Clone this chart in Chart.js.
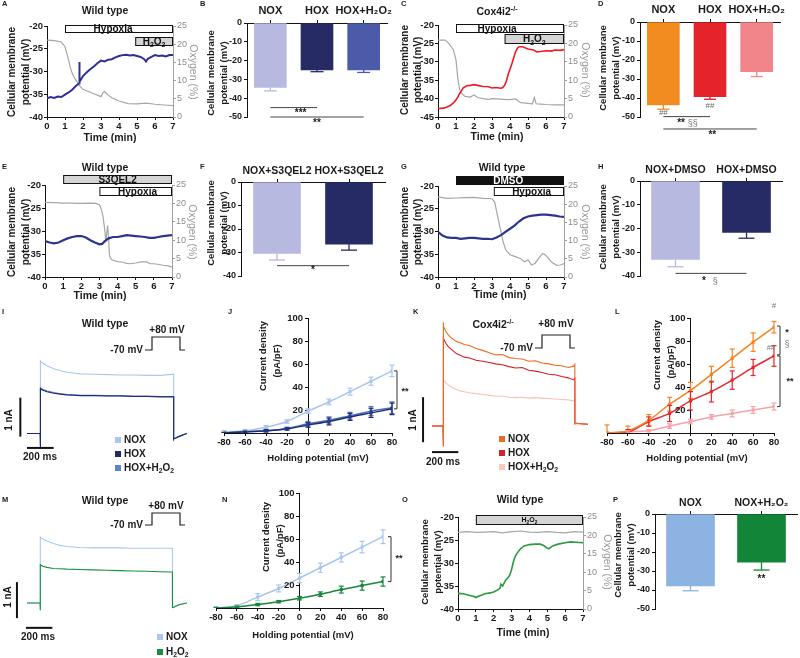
<!DOCTYPE html>
<html>
<head>
<meta charset="utf-8">
<script src="https://cdn.jsdelivr.net/npm/chart.js@4.4.1/dist/chart.umd.min.js"></script>
<style>
html, body { margin: 0; padding: 0; background: #fff; }
#fig { position: relative; width: 800px; height: 658px; overflow: hidden; background: #fff; }
#fig canvas { position: absolute; left: 0; top: 0; }
</style>
</head>
<body>
<div id="fig"></div>
<script>
// ---------- data ----------
// A: wild type, membrane potential (mV) and oxygen (%) vs time (min)
const aVmTime = [0,0.2,0.4,0.6,0.8,1.0,1.2,1.4,1.6,1.79,1.8,1.81,2.0,2.2,2.4,2.6,2.8,3.0,3.2,3.4,3.6,3.8,4.0,4.2,4.4,4.6,4.8,5.0,5.2,5.4,5.5,5.6,5.8,6.0,6.2,6.4,6.6,6.8,7.0];
const aVm = [-35.9,-35.6,-35.8,-35.5,-35.6,-35.1,-34.6,-34.0,-33.2,-32.6,-27.9,-32.3,-31.0,-30.2,-29.5,-28.9,-28.2,-27.6,-27.8,-27.4,-27.3,-26.9,-26.6,-26.4,-26.3,-26.5,-26.4,-26.6,-26.8,-27.3,-27.8,-27.2,-26.8,-26.4,-26.6,-26.5,-26.7,-26.4,-26.4];
const aO2Time = [0,0.4,0.8,1.0,1.1,1.2,1.3,1.4,1.5,1.6,1.8,2.0,2.3,2.6,3.0,3.1,3.2,3.4,3.6,4.0,4.5,5.0,5.5,6.0,6.5,7.0];
const aO2 = [21.1,21.0,20.6,19.3,17.5,15.6,13.5,12.0,11.0,10.2,8.6,7.6,7.0,6.4,5.6,6.6,7.0,6.0,5.3,4.4,3.7,3.6,3.8,3.5,3.3,3.1];

// C: Cox4i2-/-
const cVmTime = [0,0.3,0.5,0.7,0.9,1.0,1.1,1.2,1.3,1.4,1.5,1.6,1.8,2.0,2.2,2.5,2.8,3.0,3.2,3.5,3.6,3.7,3.8,3.9,4.0,4.1,4.2,4.3,4.4,4.5,4.7,5.0,5.3,5.5,5.7,6.0,6.3,6.5,6.8,7.0];
const cVm = [-42.7,-42.6,-42.3,-41.8,-41.0,-40.3,-39.6,-38.6,-37.9,-37.1,-36.8,-36.5,-36.4,-36.2,-36.4,-36.7,-36.8,-37.1,-37.0,-37.2,-37.0,-36.4,-35.2,-33.4,-32.0,-30.6,-29.0,-27.4,-26.4,-25.9,-25.9,-26.5,-26.8,-27.3,-27.2,-27.0,-27.1,-26.8,-26.9,-26.7];
const cO2Time = [0,0.4,0.6,0.85,1.0,1.1,1.2,1.3,1.5,1.8,2.0,2.2,2.5,2.8,3.0,3.3,3.6,4.0,4.3,4.6,5.0,5.25,5.35,5.45,5.7,6.0,6.5,7.0];
const cO2 = [20.9,20.9,20.0,18.3,15.5,10.5,7.5,6.5,5.6,5.4,6.0,5.3,5.0,4.8,5.0,4.9,4.8,4.7,4.9,3.9,3.7,3.6,5.3,3.6,3.5,3.4,3.3,3.3];

// E: wild type + S3QEL2
const eVmTime = [0,0.25,0.5,0.75,1,1.25,1.5,1.75,2,2.25,2.5,2.75,3,3.15,3.3,3.5,3.75,4,4.25,4.5,4.75,5,5.25,5.5,5.75,6,6.25,6.5,6.75,7];
const eVm = [-32.2,-32.5,-32.7,-32.5,-32.0,-31.6,-31.3,-31.1,-31.1,-31.4,-32.0,-32.5,-32.9,-32.8,-32.2,-31.6,-31.3,-31.3,-31.1,-30.9,-31.0,-31.1,-31.2,-31.3,-31.5,-31.5,-31.3,-31.1,-31.0,-30.9];
const eO2Time = [0,0.5,1,1.5,2,2.5,2.8,3.0,3.1,3.2,3.3,3.35,3.45,3.5,3.55,3.6,3.7,4.0,4.3,4.5,4.7,5.0,5.3,5.6,5.8,6.0,6.3,6.5,6.8,7.0];
const eO2 = [20.3,20.2,20.1,20.1,20.0,20.1,20.0,19.6,18.5,16.4,12.5,9.5,14.0,11.0,6.0,5.2,4.6,4.2,4.0,3.7,3.6,3.8,4.1,4.1,3.6,3.6,3.4,3.2,3.0,2.7];

// G: wild type + DMSO
const gVmTime = [0,0.25,0.5,0.75,1,1.25,1.5,1.75,2,2.25,2.5,2.75,3,3.25,3.5,3.75,4,4.25,4.5,4.75,5,5.25,5.5,5.75,6,6.25,6.5,6.75,7];
const gVm = [-30.1,-30.9,-31.3,-31.4,-31.4,-31.6,-31.5,-31.4,-31.4,-31.5,-31.6,-31.6,-31.7,-31.3,-30.8,-30.1,-29.4,-28.7,-27.8,-27.1,-26.7,-26.5,-26.4,-26.3,-26.3,-26.4,-26.5,-26.7,-26.8];
const gO2Time = [0,0.5,1,1.5,2,2.5,3.0,3.15,3.3,3.45,3.6,3.75,3.9,4.0,4.3,4.6,4.8,5.0,5.2,5.4,5.6,5.8,5.9,6.1,6.3,6.6,6.8,7.0];
const gO2 = [22.0,21.6,21.7,21.8,21.9,21.6,21.5,20.6,17.0,13.5,10.0,7.6,6.6,6.1,5.6,5.0,4.2,4.7,3.3,3.8,5.2,6.4,6.3,5.4,4.1,3.2,3.3,3.7];

// O: wild type + H2O2 in normoxia
const oVmTime = [0,0.3,0.6,0.9,1.0,1.1,1.3,1.5,1.8,2.0,2.2,2.35,2.4,2.5,2.6,2.7,2.8,2.9,3.0,3.1,3.2,3.3,3.5,3.7,4.0,4.3,4.6,4.8,5.0,5.1,5.3,5.6,6.0,6.3,6.6,7.0];
const oVm = [-36.6,-36.7,-37.0,-37.3,-37.5,-37.3,-37.0,-36.7,-36.5,-36.3,-35.9,-35.5,-34.6,-35.0,-34.2,-33.6,-33.2,-32.6,-31.4,-29.8,-28.6,-27.9,-26.9,-26.3,-26.0,-25.9,-25.9,-26.2,-26.8,-26.9,-26.3,-25.9,-25.6,-25.4,-25.5,-25.6];
const oO2Time = [0,0.5,1,1.5,2,2.5,3,3.5,4,4.5,5,5.5,6,6.5,7];
const oO2 = [20.8,21.0,20.8,20.9,21.0,20.7,21.0,21.2,20.9,20.8,21.0,20.8,20.7,21.0,20.9];

// bar panels (mV, mean and SEM)
const catsB = ['NOX', 'HOX', 'HOX+H₂O₂'];
const barB = [-34.3, -25.0, -25.0];
const errB = [1.8, 0.9, 1.3];
const catsD = ['NOX', 'HOX', 'HOX+H₂O₂'];
const barD = [-43.7, -39.3, -26.2];
const errD = [2.2, 1.4, 2.5];
const catsF = ['NOX+S3QEL2', 'HOX+S3QEL2'];
const barF = [-30.4, -26.5];
const errF = [2.8, 2.5];
const catsH = ['NOX+DMSO', 'HOX+DMSO'];
const barH = [-33.0, -21.6];
const errH = [3.1, 2.5];
const catsP = ['NOX', 'NOX+H₂O₂'];
const barP = [-37.9, -25.3];
const errP = [2.5, 4.2];

// current traces (time in ms, current in nA)
const iTime = [-100,-1,0,0,2,20,50,100,150,200,250,300,400,500,600,700,800,900,1000,1000,1003,1015,1040,1070,1100];
const iNox  = [0,0,-0.35,1.88,1.85,1.80,1.74,1.66,1.61,1.57,1.55,1.53,1.52,1.51,1.50,1.50,1.49,1.49,1.52,-0.15,-0.13,-0.12,-0.08,-0.04,0];
const iHox  = [0,0,-0.35,1.16,1.14,1.11,1.07,1.03,1.01,0.99,0.98,0.97,0.97,0.96,0.96,0.95,0.95,0.94,0.94,-0.15,-0.13,-0.12,-0.08,-0.04,0];
const iHoxH = [0,0,-0.30,1.19,1.17,1.13,1.09,1.05,1.02,1.00,0.99,0.98,0.98,0.97,0.97,0.96,0.96,0.95,0.95,-0.14,-0.12,-0.11,-0.07,-0.03,0];

const kTime = [-85,-1,0,0,5,20,40,60,80,100,130,160,200,250,300,350,400,450,500,550,600,650,700,750,800,850,900,950,990,1000,1000,1010,1050,1100];
const kNox  = [0,0,-0.45,2.3,2.22,2.1,2.02,1.96,1.92,1.88,1.85,1.81,1.79,1.72,1.68,1.63,1.58,1.59,1.52,1.50,1.49,1.44,1.45,1.40,1.38,1.35,1.34,1.30,1.33,1.37,0.05,0.06,0.05,0.04];
const kHox  = [0,0,-0.45,2.0,1.95,1.84,1.76,1.71,1.66,1.61,1.57,1.53,1.51,1.46,1.44,1.41,1.38,1.36,1.32,1.29,1.30,1.24,1.22,1.19,1.15,1.14,1.10,1.07,1.03,1.06,0.05,0.06,0.05,0.04];
const kHoxH = [0,0,-0.45,1.05,1.02,0.96,0.91,0.87,0.84,0.81,0.78,0.76,0.74,0.72,0.70,0.68,0.66,0.66,0.64,0.63,0.64,0.62,0.63,0.62,0.61,0.60,0.59,0.58,0.56,0.58,0.04,0.05,0.04,0.04];

const mTime = [-100,-1,0,0,2,20,50,100,150,200,300,400,500,600,700,800,900,1000,1000,1005,1020,1050,1110];
const mNox  = [0,0,-0.2,1.85,1.83,1.78,1.72,1.65,1.60,1.57,1.54,1.53,1.53,1.53,1.52,1.52,1.52,1.52,-0.12,-0.13,-0.1,-0.05,0];
const mH2o2 = [0,0,-0.2,1.08,1.06,1.02,0.99,0.96,0.95,0.94,0.93,0.92,0.91,0.90,0.89,0.88,0.87,0.86,-0.12,-0.13,-0.1,-0.05,0];

// current density vs holding potential (pA/pF, mean and SEM)
const ivV = [-80, -60, -40, -20, 0, 20, 40, 60, 80];
const jNox = [1, 2, 5, 10, 19, 27, 36, 45, 54];
const jNoxErr = [1, 1, 1.5, 1.5, 2, 2.5, 3, 3.5, 5];
const jHox = [0, 1, 2, 3.5, 7, 10, 14, 17.5, 21];
const jHoxErr = [0.5, 0.5, 1, 1, 2, 3, 3, 4, 5];
const jHoxH = [0, 1, 2, 4, 8, 11, 15, 19, 22];
const jHoxHErr = [0.5, 0.5, 1, 1, 2, 3, 3, 4, 5];
const lNox = [0, 2, 11, 25, 37, 51, 65, 79, 92];
const lNoxErr = [7, 4, 5, 6, 7, 7, 8, 8, 5];
const lHox = [0, 1, 10, 17, 28, 36, 46, 57, 67];
const lHoxErr = [0, 2, 4, 7, 8, 9, 8, 7, 9];
const lHoxH = [0, 1, 2, 6, 10, 14, 17, 20, 23];
const lHoxHErr = [0, 1, 1, 2, 2, 2, 3, 3, 3];
const nNox = [0, 2, 9.5, 17, 26, 35, 44, 53, 62];
const nNoxErr = [1, 1, 3, 3, 4, 4, 4, 5, 6];
const nH2o2 = [0, 1, 3, 5.5, 8.5, 12, 16, 19.5, 23];
const nH2o2Err = [0.5, 0.5, 1, 1, 1.5, 2, 3, 4, 4];

// ---------- helpers ----------
const FONT = '"Liberation Sans", Arial, Helvetica, sans-serif';
Chart.defaults.font.family = FONT;
Chart.defaults.font.size = 9.5;
Chart.defaults.font.weight = 'bold';
Chart.defaults.color = '#1a1a1a';
Chart.defaults.animation = false;
Chart.defaults.responsive = false;
Chart.defaults.maintainAspectRatio = false;
Chart.defaults.events = [];
Chart.defaults.plugins.legend.display = false;
Chart.defaults.plugins.tooltip.enabled = false;

const W = 800, H = 658;
const fig = document.getElementById('fig');
const GREY = '#a6a6a6';

function makeChart(config) {
  const c = document.createElement('canvas');
  c.width = W; c.height = H;
  c.style.width = W + 'px'; c.style.height = H + 'px';
  fig.appendChild(c);
  return new Chart(c.getContext('2d'), config);
}

function fixSize(n) {
  return function (s) { if (s.isHorizontal()) s.height = n; else s.width = n; };
}

function pairs(t, v) { return t.map((x, i) => ({ x: x, y: v[i] })); }

function axisStyle(color) {
  return {
    grid: { display: true, drawOnChartArea: false, drawTicks: true, tickLength: 3, color: color, lineWidth: 1 },
    border: { display: true, color: color, width: 1 }
  };
}

// text with _{sub} and ^{sup} parts
function txt(ctx, str, x, y, o) {
  o = o || {};
  const size = o.s || 10, weight = o.w || 'bold';
  const segs = [];
  const re = /([_^])\{([^}]*)\}/g;
  let last = 0, m;
  while ((m = re.exec(str))) {
    if (m.index > last) segs.push({ t: str.slice(last, m.index), d: 0 });
    segs.push({ t: m[2], d: m[1] === '_' ? 1 : -1 });
    last = re.lastIndex;
  }
  if (last < str.length) segs.push({ t: str.slice(last), d: 0 });
  ctx.save();
  ctx.fillStyle = o.c || '#1a1a1a';
  ctx.textBaseline = 'middle';
  ctx.textAlign = 'left';
  let total = 0;
  segs.forEach(s => {
    s.size = s.d ? size * 0.68 : size;
    ctx.font = weight + ' ' + s.size + 'px ' + FONT;
    s.w = ctx.measureText(s.t).width;
    total += s.w;
  });
  ctx.translate(x, y);
  if (o.r) ctx.rotate(o.r);
  let cx = o.a === 'left' ? 0 : o.a === 'right' ? -total : -total / 2;
  segs.forEach(s => {
    ctx.font = weight + ' ' + s.size + 'px ' + FONT;
    ctx.fillText(s.t, cx, s.d * size * 0.32);
    cx += s.w;
  });
  ctx.restore();
}

function line(ctx, pts, color, w) {
  ctx.save();
  ctx.strokeStyle = color; ctx.lineWidth = w || 1;
  ctx.beginPath();
  pts.forEach((p, i) => i ? ctx.lineTo(p[0], p[1]) : ctx.moveTo(p[0], p[1]));
  ctx.stroke();
  ctx.restore();
}

function letter(ctx, s, x, y) { txt(ctx, s, x, y, { s: 7.5, a: 'left' }); }

function ylab(ctx, x1, x2, y, size) {
  txt(ctx, 'Cellular membrane', x1, y, { s: size || 10, r: -Math.PI / 2 });
  txt(ctx, 'potential (mV)', x2, y, { s: size || 10, r: -Math.PI / 2 });
}

// ---------- time course panels ----------
function timeDecor(d) {
  return function (chart) {
    const ctx = chart.ctx, xs = chart.scales.x;
    d.boxes.forEach(b => {
      const x0 = xs.getPixelForValue(b.from), x1 = xs.getPixelForValue(b.to);
      ctx.save();
      ctx.fillStyle = b.fill;
      ctx.fillRect(x0, b.y0, x1 - x0, b.y1 - b.y0);
      ctx.strokeStyle = '#111'; ctx.lineWidth = 1;
      ctx.strokeRect(x0 + 0.5, b.y0 + 0.5, x1 - x0 - 1, b.y1 - b.y0 - 1);
      ctx.restore();
      txt(ctx, b.text, xs.getPixelForValue(b.at), (b.y0 + b.y1) / 2 + 0.5, { s: b.s || 10, c: b.tc || '#111' });
    });
    letter(ctx, d.letter[0], d.letter[1], d.letter[2]);
    txt(ctx, d.title[0], d.title[1], d.title[2], { s: 10.5 });
    ylab(ctx, d.ylab[0], d.ylab[1], d.ylab[2], d.ylab[3]);
    txt(ctx, 'Oxygen (%)', d.oxy[0], d.oxy[1], { s: 10.5, w: 'normal', c: '#9a9a9a', r: Math.PI / 2 });
    txt(ctx, 'Time (min)', d.xlab[0], d.xlab[1], { s: 10.5 });
  };
}

function timePanel(p) {
  const YW = 26, Y2W = 22, XH = 14;
  const ax = axisStyle('#111'), gr = axisStyle('#a0a0a0');
  return makeChart({
    type: 'line',
    data: { datasets: [
      { data: pairs(p.vt, p.v), borderColor: p.color, borderWidth: p.lw || 1.8, yAxisID: 'y', order: 1 },
      { data: pairs(p.ot, p.o), borderColor: GREY, borderWidth: 1.2, yAxisID: 'y2', order: 2 }
    ] },
    options: {
      layout: { padding: { left: p.l - YW, right: W - p.r - Y2W, top: p.t, bottom: H - p.b - XH } },
      elements: { point: { radius: 0 }, line: { tension: 0 } },
      scales: {
        x: Object.assign({ type: 'linear', min: 0, max: 7, ticks: { stepSize: 1, padding: 1 }, afterFit: fixSize(XH) }, ax),
        y: Object.assign({ min: p.ymin, max: -20, ticks: { stepSize: 5, padding: 1 }, afterFit: fixSize(YW) }, ax),
        y2: Object.assign({ position: 'right', min: 0, max: 25,
          ticks: { stepSize: 5, padding: 1, color: '#8c8c8c', font: { size: 9, weight: 'normal' } }, afterFit: fixSize(Y2W) }, gr)
      }
    },
    plugins: [{ id: 'decor', afterDraw: p.decor }]
  });
}

timePanel({ l: 47, r: 173, t: 26, b: 117, ymin: -40, color: '#2e3192', lw: 2,
  vt: aVmTime, v: aVm, ot: aO2Time, o: aO2,
  decor: timeDecor({
    letter: ['A', 2, 4], title: ['Wild type', 105, 11],
    boxes: [
      { from: 1, to: 7, y0: 25, y1: 33, fill: '#fff', text: 'Hypoxia', at: 3.67 },
      { from: 4.9, to: 7, y0: 37, y1: 46, fill: '#d4d4d4', text: 'H_{2}O_{2}', at: 5.95 }
    ],
    ylab: [12, 26, 72], oxy: [193, 72], xlab: [110, 138]
  })
});

timePanel({ l: 438, r: 564, t: 25, b: 117, ymin: -45, color: '#ed1c24', lw: 1.6,
  vt: cVmTime, v: cVm, ot: cO2Time, o: cO2,
  decor: timeDecor({
    letter: ['C', 401, 4], title: ['Cox4i2^{-/-}', 497, 12],
    boxes: [
      { from: 1, to: 7, y0: 24, y1: 33, fill: '#fff', text: 'Hypoxia', at: 3.28 },
      { from: 3.7, to: 7, y0: 34, y1: 44, fill: '#d4d4d4', text: 'H_{2}O_{2}', at: 5.35 }
    ],
    ylab: [405, 418, 70], oxy: [585, 70], xlab: [497, 137]
  })
});

timePanel({ l: 45, r: 172, t: 185, b: 277, ymin: -40, color: '#2b3590', lw: 2.2,
  vt: eVmTime, v: eVm, ot: eO2Time, o: eO2,
  decor: timeDecor({
    letter: ['E', 2, 167], title: ['Wild type', 105, 168],
    boxes: [
      { from: 1, to: 7, y0: 175, y1: 184, fill: '#d4d4d4', text: 'S3QEL2', at: 4 },
      { from: 3, to: 7, y0: 187, y1: 196, fill: '#fff', text: 'Hypoxia', at: 5.1 }
    ],
    ylab: [12, 26, 232], oxy: [192, 232], xlab: [100, 296]
  })
});

timePanel({ l: 438, r: 564, t: 186, b: 277, ymin: -40, color: '#2b3590', lw: 2.2,
  vt: gVmTime, v: gVm, ot: gO2Time, o: gO2,
  decor: timeDecor({
    letter: ['G', 401, 167], title: ['Wild type', 502, 168],
    boxes: [
      { from: 1, to: 7, y0: 176, y1: 185, fill: '#111', text: 'DMSO', tc: '#fff', at: 3.9 },
      { from: 3.1, to: 7, y0: 187, y1: 196, fill: '#fff', text: 'Hypoxia', at: 5.2 }
    ],
    ylab: [405, 418, 232], oxy: [585, 232], xlab: [500, 295]
  })
});

timePanel({ l: 458, r: 583, t: 517, b: 609, ymin: -40, color: '#2a9a3f', lw: 1.6,
  vt: oVmTime, v: oVm, ot: oO2Time, o: oO2,
  decor: timeDecor({
    letter: ['O', 402, 500], title: ['Wild type', 520, 500],
    boxes: [
      { from: 1, to: 7, y0: 515, y1: 525, fill: '#d4d4d4', text: 'H_{2}O_{2}', at: 4, s: 7 }
    ],
    ylab: [425, 438, 562, 9.5], oxy: [607, 562], xlab: [523, 633]
  })
});

// ---------- bar panels ----------
function barErrors(chart, capW) {
  const ctx = chart.ctx, ys = chart.scales.y;
  chart.data.datasets.forEach((ds, di) => {
    chart.getDatasetMeta(di).data.forEach((el, i) => {
      const y1 = ys.getPixelForValue(ds.data[i] - ds.err[i]);
      const col = ds.backgroundColor[i];
      line(ctx, [[el.x, el.y], [el.x, y1]], col, 1.3);
      line(ctx, [[el.x - capW / 2, y1], [el.x + capW / 2, y1]], col, 1.3);
    });
  });
}

function sig(chart, i0, i1, v) {
  const xs = chart.scales.x, ys = chart.scales.y, y = ys.getPixelForValue(v);
  line(chart.ctx, [[xs.getPixelForValue(i0), y], [xs.getPixelForValue(i1), y]], '#444', 1);
}

function mark(chart, s, i, v, o) {
  txt(chart.ctx, s, chart.scales.x.getPixelForValue(i), chart.scales.y.getPixelForValue(v), Object.assign({ s: 10 }, o || {}));
}

function barPanel(p) {
  const YW = 28, XH = 18;
  return makeChart({
    type: 'bar',
    data: { labels: p.cats, datasets: [{ data: p.vals, err: p.err, backgroundColor: p.colors, barThickness: p.bw, borderWidth: 0 }] },
    options: {
      layout: { padding: { left: p.l - YW, right: W - p.r, top: p.t - XH, bottom: H - p.b } },
      scales: {
        x: { position: 'top', offset: true, afterFit: fixSize(XH),
          ticks: { font: { size: p.fs }, padding: 2, maxRotation: 0, autoSkip: false },
          grid: { display: true, offset: false, drawOnChartArea: false, tickLength: 3, color: '#111' },
          border: { display: true, color: '#111', width: 1 } },
        y: Object.assign({ min: p.ymin, max: 0, afterFit: fixSize(YW), ticks: { stepSize: 10, padding: 2, font: { size: 9 } } }, axisStyle('#111'))
      }
    },
    plugins: [{ id: 'decor', afterDraw: chart => { barErrors(chart, p.cap); p.decor(chart); } }]
  });
}

barPanel({ l: 247, r: 387, t: 23, b: 117, ymin: -50, bw: 32, cap: 13, fs: 11,
  cats: catsB, vals: barB, err: errB, colors: ['#b8b9e1', '#262b66', '#4b5aa9'],
  decor: chart => {
    letter(chart.ctx, 'B', 200, 4);
    ylab(chart.ctx, 211, 224, 73, 9.5);
    sig(chart, 0, 1, -45); mark(chart, '***', 0.65, -47.8);
    sig(chart, 0, 2, -50); mark(chart, '**', 1, -53.2);
  }
});

barPanel({ l: 640, r: 780, t: 22, b: 117, ymin: -50, bw: 32, cap: 12, fs: 11,
  cats: catsD, vals: barD, err: errD, colors: ['#f28b20', '#e5232a', '#f2858a'],
  decor: chart => {
    letter(chart.ctx, 'D', 598, 4);
    ylab(chart.ctx, 603, 616, 68, 9.5);
    mark(chart, '##', 0, -47.9, { s: 8, w: 'normal', c: '#666' });
    mark(chart, '##', 1, -44.2, { s: 8, w: 'normal', c: '#666' });
    sig(chart, 0, 1, -49.8);
    mark(chart, '**', 0.38, -53.4);
    mark(chart, '§§', 0.63, -53.4, { s: 9, w: 'normal', c: '#777' });
    sig(chart, 0, 2, -56.3); mark(chart, '**', 1.05, -59.5);
  }
});

barPanel({ l: 241, r: 385, t: 182, b: 276, ymin: -40, bw: 47, cap: 16, fs: 10.5,
  cats: catsF, vals: barF, err: errF, colors: ['#b8b9e1', '#262b66'],
  decor: chart => {
    letter(chart.ctx, 'F', 200, 167);
    ylab(chart.ctx, 211, 224, 223, 9.5);
    sig(chart, 0, 1, -35.6); mark(chart, '*', 0.5, -37.5);
  }
});

barPanel({ l: 640, r: 782, t: 181, b: 276, ymin: -40, bw: 48, cap: 16, fs: 10.5,
  cats: catsH, vals: barH, err: errH, colors: ['#b8b9e1', '#262b66'],
  decor: chart => {
    letter(chart.ctx, 'H', 598, 167);
    ylab(chart.ctx, 603, 616, 227, 9.5);
    sig(chart, 0, 1, -38.9);
    mark(chart, '*', 0.4, -42.4);
    mark(chart, '§', 0.56, -42.4, { s: 9, w: 'normal', c: '#777' });
  }
});

barPanel({ l: 655, r: 797, t: 514, b: 609, ymin: -50, bw: 48, cap: 16, fs: 10.5,
  cats: catsP, vals: barP, err: errP, colors: ['#8db3e2', '#138538'],
  decor: chart => {
    letter(chart.ctx, 'P', 613, 500);
    ylab(chart.ctx, 618, 631, 555, 9.5);
    mark(chart, '**', 1, -34.4);
  }
});

// ---------- current traces ----------
function traceDecor(d) {
  return function (chart) {
    const ctx = chart.ctx, xs = chart.scales.x, ys = chart.scales.y;
    const hx0 = xs.getPixelForValue(d.hbar[0]), hx1 = xs.getPixelForValue(d.hbar[0] + 200), hy = ys.getPixelForValue(d.hbar[1]);
    line(ctx, [[hx0, hy], [hx1, hy]], '#111', 2);
    const vx = xs.getPixelForValue(d.vbar[0]);
    line(ctx, [[vx, ys.getPixelForValue(d.vbar[1])], [vx, ys.getPixelForValue(d.vbar[1] + 1)]], '#111', 2);
    txt(ctx, '200 ms', d.ms[0], d.ms[1], { s: 10 });
    txt(ctx, '1 nA', d.nA[0], d.nA[1], { s: 10, r: -Math.PI / 2 });
    const s = d.step;
    line(ctx, [[s.x, s.yb], [s.x + 7, s.yb], [s.x + 7, s.yt], [s.x + 35, s.yt], [s.x + 35, s.yb], [s.x + 40, s.yb]], '#222', 1.2);
    txt(ctx, '-70 mV', s.x - 2, s.yb, { s: 10, a: 'right' });
    txt(ctx, '+80 mV', s.plus[0], s.plus[1], { s: 10 });
    letter(ctx, d.letter[0], d.letter[1], d.letter[2]);
    txt(ctx, d.title[0], d.title[1], d.title[2], { s: 10.5 });
    d.legend.labels.forEach((lab, i) => {
      ctx.fillStyle = d.legend.colors[i];
      ctx.fillRect(d.legend.x, d.legend.ys[i] - 3, 6, 6);
      txt(ctx, lab, d.legend.x + 9, d.legend.ys[i], { s: 10, a: 'left' });
    });
  };
}

function tracePanel(p) {
  return makeChart({
    type: 'line',
    data: { datasets: p.series.map(s => ({ data: pairs(p.time, s.v), borderColor: s.c, borderWidth: 1.1, order: s.order })) },
    options: {
      layout: { padding: { left: p.l, right: W - p.r, top: p.t, bottom: H - p.b } },
      elements: { point: { radius: 0 }, line: { tension: 0 } },
      scales: {
        x: { type: 'linear', display: false, min: p.xmin, max: p.xmax },
        y: { display: false, min: p.ymin, max: p.ymax }
      }
    },
    plugins: [{ id: 'decor', afterDraw: p.decor }]
  });
}

tracePanel({ l: 27, r: 187, t: 336, b: 453, xmin: -100, xmax: 1100, ymin: -0.5, ymax: 2.5, time: iTime,
  series: [{ v: iNox, c: '#a9c8ee', order: 3 }, { v: iHoxH, c: '#4e72c2', order: 2 }, { v: iHox, c: '#1e2a6c', order: 1 }],
  decor: traceDecor({
    letter: ['I', 2, 312], title: ['Wild type', 105, 324],
    step: { x: 145, yb: 350, yt: 337, plus: [167, 330] },
    vbar: [-150, -0.08], hbar: [-100, -0.37], ms: [40, 457], nA: [9, 420],
    legend: { x: 115, ys: [440, 454, 468], labels: ['NOX', 'HOX', 'HOX+H_{2}O_{2}'], colors: ['#a9c8ee', '#1e2a6c', '#5b86cf'] }
  })
});

tracePanel({ l: 432, r: 588, t: 318, b: 453, xmin: -85, xmax: 1100, ymin: -0.6, ymax: 2.4, time: kTime,
  series: [{ v: kNox, c: '#f26a21', order: 1 }, { v: kHox, c: '#d61f26', order: 2 }, { v: kHoxH, c: '#f8c4b0', order: 3 }],
  decor: traceDecor({
    letter: ['K', 413, 312], title: ['Cox4i2^{-/-}', 493, 325],
    step: { x: 535, yb: 348, yt: 335, plus: [556, 324] },
    vbar: [-153, -0.36], hbar: [-85, -0.58], ms: [443, 462], nA: [413, 420],
    legend: { x: 499, ys: [439, 453, 467], labels: ['NOX', 'HOX', 'HOX+H_{2}O_{2}'], colors: ['#f26a21', '#d61f26', '#fbc9b7'] }
  })
});

tracePanel({ l: 27, r: 187, t: 513, b: 621, xmin: -100, xmax: 1110, ymin: -0.5, ymax: 2.5, time: mTime,
  series: [{ v: mNox, c: '#a9c8ee', order: 2 }, { v: mH2o2, c: '#18913d', order: 1 }],
  decor: traceDecor({
    letter: ['M', 2, 500], title: ['Wild type', 105, 501],
    step: { x: 145, yb: 525, yt: 513, plus: [166, 506] },
    vbar: [-176, -0.42], hbar: [-108, -0.69], ms: [38, 637], nA: [8, 597],
    legend: { x: 157, ys: [637, 652], labels: ['NOX', 'H_{2}O_{2}'], colors: ['#a9c8ee', '#18913d'] }
  })
});

// ---------- current density panels ----------
function ivErrors(chart) {
  const ctx = chart.ctx, ys = chart.scales.y, a = chart.chartArea;
  ctx.save();
  ctx.beginPath(); ctx.rect(a.left - 8, a.top - 10, a.right - a.left + 16, a.bottom - a.top + 10); ctx.clip();
  chart.data.datasets.forEach((ds, di) => {
    chart.getDatasetMeta(di).data.forEach((el, i) => {
      const v = ds.data[i].y, e = ds.err[i];
      if (!e) return;
      const yt = ys.getPixelForValue(v + e), yb = ys.getPixelForValue(v - e);
      line(ctx, [[el.x, yt], [el.x, yb]], ds.borderColor, 1.2);
      line(ctx, [[el.x - 2.5, yt], [el.x + 2.5, yt]], ds.borderColor, 1.2);
      line(ctx, [[el.x - 2.5, yb], [el.x + 2.5, yb]], ds.borderColor, 1.2);
    });
  });
  ctx.restore();
}

function bracket(chart, v0, v1, dx) {
  const x = chart.scales.x.getPixelForValue(80) + dx;
  const y0 = chart.scales.y.getPixelForValue(v0), y1 = chart.scales.y.getPixelForValue(v1);
  line(chart.ctx, [[x - 3, y0], [x, y0], [x, y1], [x - 3, y1]], '#333', 1);
}

function ivPanel(p) {
  const XH = 14;
  const ax = axisStyle('#111');
  return makeChart({
    type: 'line',
    data: { datasets: p.series.map(s => ({
      data: pairs(ivV, s.v), err: s.e, borderColor: s.c, backgroundColor: s.c, borderWidth: 1.5,
      pointStyle: 'rect', pointRadius: 2.2, pointBorderWidth: 0, cubicInterpolationMode: 'monotone', order: s.order
    })) },
    options: {
      layout: { padding: { left: p.l, right: W - p.r, top: p.t, bottom: H - p.b - XH } },
      scales: {
        x: Object.assign({ type: 'linear', min: -80, max: 80, ticks: { stepSize: 20, padding: 1 }, afterFit: fixSize(XH) }, ax),
        y: Object.assign({ axis: 'y', position: { x: 0 }, min: 0, max: 100,
          ticks: { stepSize: 20, display: false } }, ax)
      }
    },
    plugins: [{ id: 'decor', afterDraw: chart => {
      ivErrors(chart);
      const ctx = chart.ctx, xs = chart.scales.x, ys = chart.scales.y;
      // y tick labels, left of the axis that crosses at 0 mV
      const x0 = xs.getPixelForValue(0);
      ys.ticks.forEach(t => {
        if (t.value !== 0) txt(ctx, String(t.value), x0 - 5, ys.getPixelForValue(t.value), { s: 9.5, a: 'right' });
      });
      letter(ctx, p.letter[0], p.letter[1], p.letter[2]);
      txt(ctx, 'Current density', p.cd[0], p.cd[1], { s: 9.5, r: -Math.PI / 2 });
      txt(ctx, '(pA/pF)', p.cd[2], p.cd[3], { s: 9.5, r: -Math.PI / 2 });
      txt(ctx, 'Holding potential (mV)', p.hp[0], p.hp[1], { s: 9.5 });
      p.decor(chart);
    } }]
  });
}

ivPanel({ l: 224, r: 392, t: 318, b: 433, letter: ['J', 228, 312], cd: [263, 356, 277, 361], hp: [318, 458],
  series: [
    { v: jNox, e: jNoxErr, c: '#a8c6ec', order: 3 },
    { v: jHoxH, e: jHoxHErr, c: '#4e72c2', order: 2 },
    { v: jHox, e: jHoxErr, c: '#1f2b6e', order: 1 }
  ],
  decor: chart => {
    bracket(chart, 54, 21, 5);
    txt(chart.ctx, '**', 405, 392, { s: 9 });
  }
});

ivPanel({ l: 607, r: 774, t: 318, b: 433, letter: ['L', 615, 312], cd: [657, 355, 671, 362], hp: [697, 458],
  series: [
    { v: lNox, e: lNoxErr, c: '#f58220', order: 1 },
    { v: lHox, e: lHoxErr, c: '#e8262b', order: 2 },
    { v: lHoxH, e: lHoxHErr, c: '#f5a3a8', order: 3 }
  ],
  decor: chart => {
    const ctx = chart.ctx, xs = chart.scales.x, ys = chart.scales.y;
    txt(ctx, '#', xs.getPixelForValue(80), ys.getPixelForValue(111), { s: 8, w: 'normal', c: '#777' });
    txt(ctx, '##', xs.getPixelForValue(77), ys.getPixelForValue(74), { s: 7.5, w: 'normal', c: '#777' });
    bracket(chart, 93, 68, 6);
    txt(ctx, '*', 787, 333, { s: 9 });
    txt(ctx, '§', 787, 345, { s: 8.5, w: 'normal', c: '#777' });
    bracket(chart, 67, 23, 6);
    txt(ctx, '**', 790, 382, { s: 9 });
  }
});

ivPanel({ l: 216, r: 383, t: 493, b: 608, letter: ['N', 222, 500], cd: [266, 537, 280, 541], hp: [303, 635],
  series: [
    { v: nNox, e: nNoxErr, c: '#a8c6ec', order: 2 },
    { v: nH2o2, e: nH2o2Err, c: '#17873b', order: 1 }
  ],
  decor: chart => {
    bracket(chart, 62, 23, 8);
    txt(chart.ctx, '**', 399, 559, { s: 9 });
  }
});
</script>
</body>
</html>
